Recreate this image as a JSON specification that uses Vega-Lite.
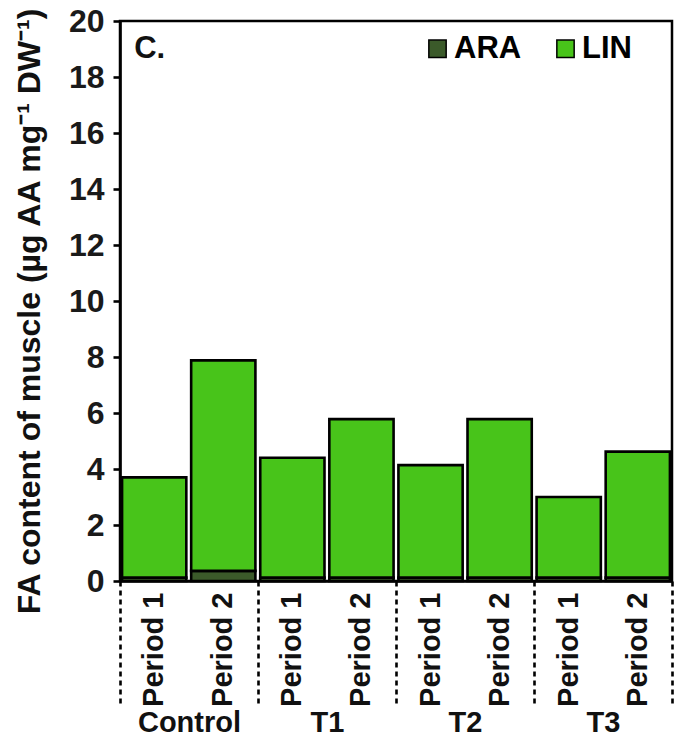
{
  "$schema": "https://vega.github.io/schema/vega-lite/v6.json",
  "width": 552,
  "height": 560,
  "autosize": {"type": "none"},
  "padding": {"left": 120, "top": 21, "right": 4, "bottom": 160},
  "background": "white",
  "config": {
    "font": "Liberation Sans",
    "view": {"stroke": "black", "strokeWidth": 2.5},
    "axis": {"grid": false}
  },
  "data": {
    "values": [
      {"group": "Control", "bar": "Control Period 1", "fa": "ARA", "value": 0.12},
      {"group": "Control", "bar": "Control Period 1", "fa": "LIN", "value": 3.58},
      {"group": "Control", "bar": "Control Period 2", "fa": "ARA", "value": 0.36},
      {"group": "Control", "bar": "Control Period 2", "fa": "LIN", "value": 7.52},
      {"group": "T1", "bar": "T1 Period 1", "fa": "ARA", "value": 0.12},
      {"group": "T1", "bar": "T1 Period 1", "fa": "LIN", "value": 4.28},
      {"group": "T1", "bar": "T1 Period 2", "fa": "ARA", "value": 0.12},
      {"group": "T1", "bar": "T1 Period 2", "fa": "LIN", "value": 5.66},
      {"group": "T2", "bar": "T2 Period 1", "fa": "ARA", "value": 0.12},
      {"group": "T2", "bar": "T2 Period 1", "fa": "LIN", "value": 4.02},
      {"group": "T2", "bar": "T2 Period 2", "fa": "ARA", "value": 0.12},
      {"group": "T2", "bar": "T2 Period 2", "fa": "LIN", "value": 5.66},
      {"group": "T3", "bar": "T3 Period 1", "fa": "ARA", "value": 0.12},
      {"group": "T3", "bar": "T3 Period 1", "fa": "LIN", "value": 2.88},
      {"group": "T3", "bar": "T3 Period 2", "fa": "ARA", "value": 0.12},
      {"group": "T3", "bar": "T3 Period 2", "fa": "LIN", "value": 4.5}
    ]
  },
  "layer": [
    {
      "layer": [
        {
          "mark": {"type": "bar", "stroke": "black", "strokeWidth": 2.6},
          "encoding": {
            "x": {
              "field": "bar",
              "type": "nominal",
              "sort": null,
              "scale": {"paddingInner": 0.07, "paddingOuter": 0.03},
              "axis": {
                "title": null,
                "orient": "bottom",
                "domainColor": "black",
                "domainWidth": 2.6,
                "ticks": false,
                "labelExpr": "slice(datum.label, -8)",
                "labelAngle": -90,
                "labelAlign": "right",
                "labelBaseline": "middle",
                "labelFont": "Liberation Sans",
                "labelFontSize": 29,
                "labelFontWeight": "bold",
                "labelColor": "#111111",
                "labelPadding": 11
              }
            },
            "y": {
              "field": "value",
              "type": "quantitative",
              "stack": "zero",
              "scale": {"domain": [0, 20], "nice": false},
              "axis": {
                "title": "FA content of muscle (µg AA mg⁻¹ DW⁻¹)",
                "titleFont": "Liberation Sans",
                "titleFontSize": 32,
                "titleFontWeight": "bold",
                "titleColor": "#111111",
                "titlePadding": 22,
                "titleY": 290,
                "values": [0, 2, 4, 6, 8, 10, 12, 14, 16, 18, 20],
                "domainColor": "black",
                "domainWidth": 2.6,
                "tickColor": "black",
                "tickWidth": 2.6,
                "tickSize": 7,
                "labelFont": "Liberation Sans",
                "labelFontSize": 32,
                "labelFontWeight": "bold",
                "labelColor": "#1a1a1a",
                "labelPadding": 9
              }
            },
            "color": {
              "field": "fa",
              "type": "nominal",
              "scale": {"domain": ["ARA", "LIN"], "range": ["#3b5a2a", "#48c41a"]},
              "legend": {
                "title": null,
                "orient": "none",
                "legendX": 302,
                "legendY": 12,
                "direction": "horizontal",
                "symbolType": "square",
                "symbolSize": 300,
                "symbolStrokeColor": "black",
                "symbolStrokeWidth": 1.5,
                "symbolOpacity": 1,
                "labelFont": "Liberation Sans",
                "labelFontSize": 31,
                "labelFontWeight": "bold",
                "labelColor": "black",
                "labelOffset": 1,
                "columnPadding": 28
              }
            },
            "order": {"field": "fa", "sort": "ascending"}
          }
        },
        {
          "data": {"values": [{"panel": "C."}]},
          "mark": {
            "type": "text",
            "align": "left",
            "baseline": "middle",
            "dx": -20,
            "font": "Liberation Sans",
            "fontSize": 31,
            "fontWeight": "bold",
            "color": "#111111"
          },
          "encoding": {
            "x": {"datum": "Control Period 1"},
            "y": {"datum": 19},
            "text": {"field": "panel"}
          }
        }
      ]
    },
    {
      "mark": {"type": "text", "text": "", "opacity": 0},
      "encoding": {
        "x": {
          "field": "group",
          "type": "nominal",
          "sort": null,
          "scale": {"paddingInner": 0, "paddingOuter": 0},
          "axis": {
            "title": null,
            "orient": "bottom",
            "domain": false,
            "ticks": true,
            "tickBand": "extent",
            "tickSize": 124,
            "tickColor": "black",
            "tickWidth": 2.6,
            "tickDash": [5, 4],
            "labelAngle": 0,
            "labelFont": "Liberation Sans",
            "labelFontSize": 29,
            "labelFontWeight": "bold",
            "labelColor": "#111111",
            "labelPadding": 3,
            "labelBaseline": "top"
          }
        }
      }
    }
  ],
  "resolve": {"scale": {"x": "independent"}, "axis": {"x": "independent"}}
}
